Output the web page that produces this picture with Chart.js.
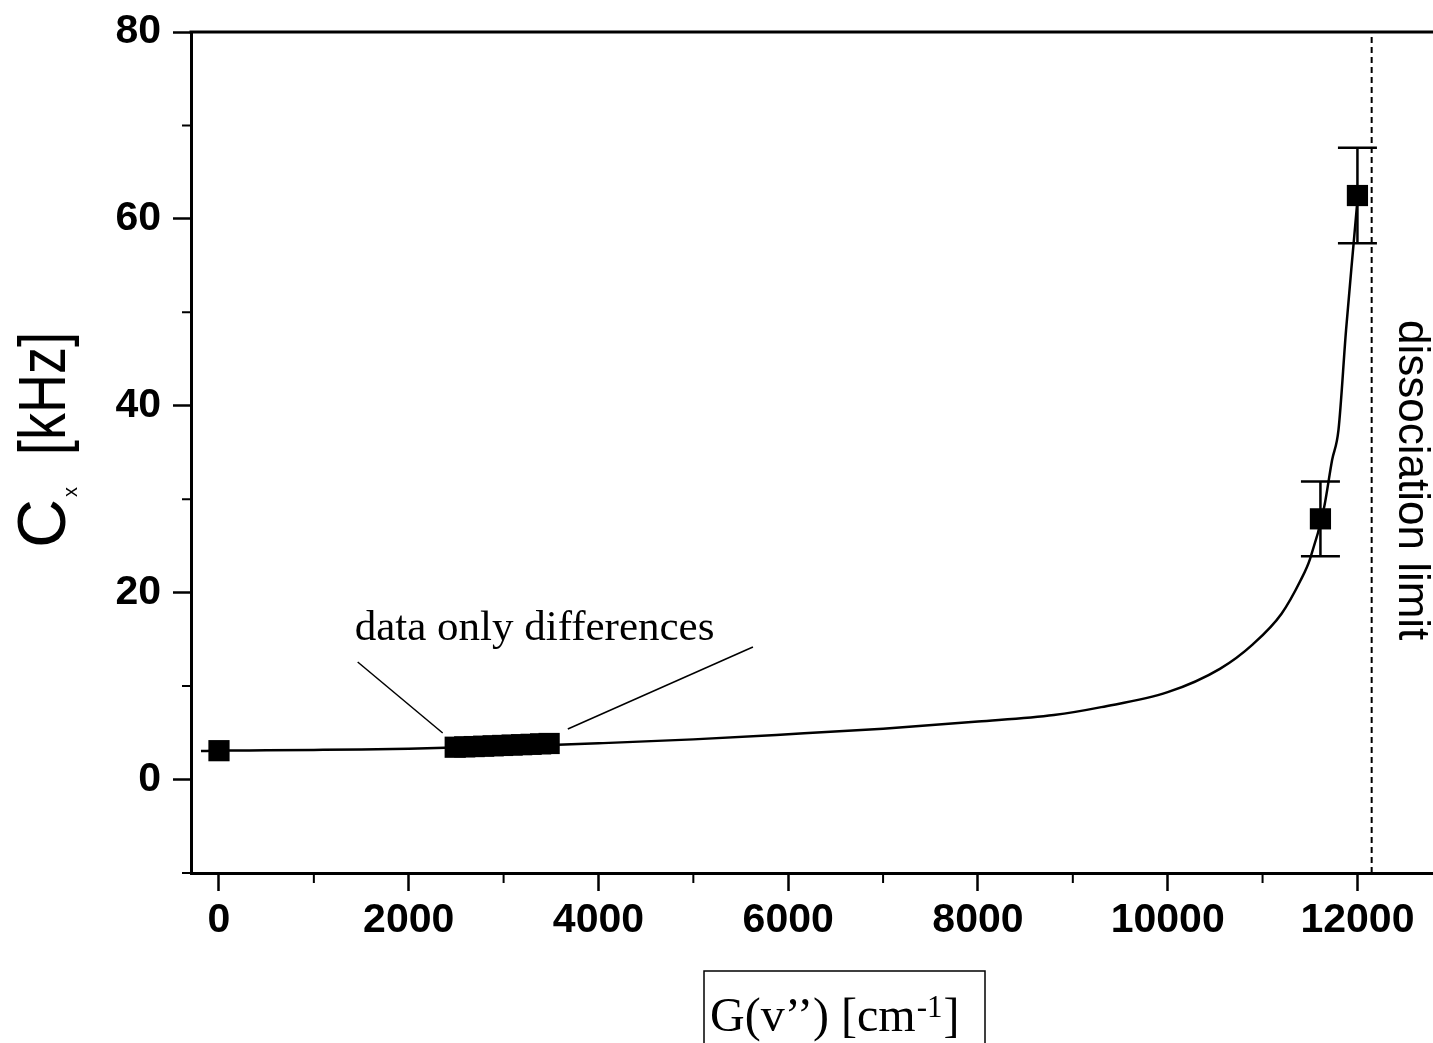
<!DOCTYPE html>
<html>
<head>
<meta charset="utf-8">
<title>Cx vs G(v'')</title>
<script src="https://cdn.jsdelivr.net/npm/chart.js@4.4.1/dist/chart.umd.min.js"></script>
<style>
  html, body { margin: 0; padding: 0; overflow: hidden; background: #fff; }
  #wrap { width: 1433px; height: 1043px; overflow: hidden; }
  canvas { display: block; }
</style>
</head>
<body>
<div id="wrap"><canvas id="c" width="1460" height="1043" style="width:1460px;height:1043px"></canvas></div>
<script>
// Fitted curve C_x(G)
const fitG = [-190, 0, 500, 1000, 1500, 2000, 2500, 3000, 3500, 4000, 5000, 6000, 7000, 8000, 8800, 9300, 10000, 10550, 10900, 11200, 11400, 11500, 11650, 11733, 11800, 11880, 11960, 12000];
const fitC = [3.05, 3.1, 3.13, 3.17, 3.22, 3.3, 3.42, 3.55, 3.7, 3.88, 4.3, 4.85, 5.45, 6.2, 6.9, 7.75, 9.35, 11.85, 14.5, 17.75, 21.3, 23.6, 29.2, 34.2, 37.4, 48.1, 57.4, 62.0];

// Measured values with uncertainties (kHz)
const dataG = [0, 2490, 2590, 2690, 2790, 2890, 2990, 3090, 3190, 3290, 3390, 3480, 11610, 12000];
const dataC = [3.09, 3.46, 3.50, 3.53, 3.57, 3.61, 3.65, 3.69, 3.73, 3.77, 3.82, 3.86, 27.9, 62.5];
const dataErr = [0, 0, 0, 0, 0, 0, 0, 0, 0, 0, 0, 0, 4.0, 5.1];

// Dissociation limit (cm^-1)
const limitG = 12150;

// Axis ranges and ticks
const xRange = [-295, 12923];
const yRange = [-10, 80];
const xMajorTicks = [0, 2000, 4000, 6000, 8000, 10000, 12000];
const yMajorTicks = [0, 20, 40, 60, 80];
const xMinorTicks = [1000, 3000, 5000, 7000, 9000, 11000];
const yMinorTicks = [-10, 10, 30, 50, 70];

// Annotation: label position and leader lines (data units)
const noteText = 'data only differences';
const notePos = [1430, 14.94];
const leaderLeft = [[1462, 12.58], [2358, 4.98]];
const leaderRight = [[5628, 14.19], [3677, 5.41]];

const toXY = (xs, ys) => xs.map((x, i) => ({ x: x, y: ys[i] }));

const decorations = {
  id: 'decorations',
  afterDatasetsDraw(chart) {
    const ctx = chart.ctx;
    const xs = chart.scales.x, ys = chart.scales.y;
    const area = chart.chartArea;
    ctx.save();
    ctx.strokeStyle = '#000';
    ctx.fillStyle = '#000';

    // error bars
    ctx.lineWidth = 2.5;
    dataErr.forEach((e, i) => {
      if (!e) return;
      const px = xs.getPixelForValue(dataG[i]);
      const top = ys.getPixelForValue(dataC[i] + e);
      const bot = ys.getPixelForValue(dataC[i] - e);
      ctx.beginPath();
      ctx.moveTo(px, top); ctx.lineTo(px, bot);
      ctx.moveTo(px - 19.5, top); ctx.lineTo(px + 19.5, top);
      ctx.moveTo(px - 19.5, bot); ctx.lineTo(px + 19.5, bot);
      ctx.stroke();
    });

    // top frame line
    ctx.lineWidth = 3;
    ctx.beginPath();
    ctx.moveTo(area.left - 1.5, area.top);
    ctx.lineTo(area.right, area.top);
    ctx.stroke();

    // minor ticks
    ctx.lineWidth = 2;
    ctx.beginPath();
    xMinorTicks.forEach(v => {
      const px = xs.getPixelForValue(v);
      ctx.moveTo(px, area.bottom); ctx.lineTo(px, area.bottom + 10);
    });
    yMinorTicks.forEach(v => {
      const py = ys.getPixelForValue(v);
      ctx.moveTo(area.left, py); ctx.lineTo(area.left - 9, py);
    });
    ctx.stroke();

    // annotation text
    ctx.font = '43px "Liberation Serif", "Times New Roman", serif';
    ctx.textAlign = 'left';
    ctx.textBaseline = 'alphabetic';
    ctx.fillText(noteText, xs.getPixelForValue(notePos[0]), ys.getPixelForValue(notePos[1]));

    // dissociation limit label (rotated clockwise)
    ctx.save();
    ctx.translate(xs.getPixelForValue(limitG) + 27, 320);
    ctx.rotate(Math.PI / 2);
    ctx.font = '44px "Liberation Sans", Arial, sans-serif';
    ctx.fillText('dissociation limit', 0, 0);
    ctx.restore();

    ctx.restore();
  },
  afterDraw(chart) {
    const ctx = chart.ctx;
    ctx.save();
    ctx.fillStyle = '#000';
    ctx.strokeStyle = '#000';

    // y-axis title: C_x [kHz]
    ctx.save();
    ctx.translate(65, 548);
    ctx.rotate(-Math.PI / 2);
    ctx.textBaseline = 'alphabetic';
    ctx.textAlign = 'left';
    ctx.font = '68px "Liberation Sans", Arial, sans-serif';
    ctx.fillText('C', 0, 0);
    ctx.font = '20px "Liberation Sans", Arial, sans-serif';
    ctx.fillText('x', 51, 12);
    ctx.font = '66px "Liberation Sans", Arial, sans-serif';
    const unit = '[kHz]';
    const w = ctx.measureText(unit).width;
    ctx.translate(93, 0);
    ctx.scale(123 / w, 1);
    ctx.fillText(unit, 0, 0);
    ctx.restore();

    // x-axis title in a box: G(v'') [cm^-1]
    ctx.lineWidth = 1.5;
    ctx.strokeRect(704, 971, 281, 90);
    ctx.textBaseline = 'alphabetic';
    ctx.textAlign = 'left';
    let x = 710;
    const base = 1031;
    ctx.font = '48px "Liberation Serif", "Times New Roman", serif';
    const part1 = 'G(v\u2019\u2019) [cm';
    ctx.fillText(part1, x, base);
    x += ctx.measureText(part1).width;
    ctx.font = '31px "Liberation Serif", "Times New Roman", serif';
    ctx.fillText('-1', x + 1, base - 14);
    x += ctx.measureText('-1').width + 2;
    ctx.font = '48px "Liberation Serif", "Times New Roman", serif';
    ctx.fillText(']', x, base);

    ctx.restore();
  }
};

const tickFont = { family: '"Liberation Sans", Arial, sans-serif', size: 41, weight: 'bold' };

new Chart(document.getElementById('c'), {
  data: {
    datasets: [
      {
        type: 'line',
        label: 'fit',
        data: toXY(fitG, fitC),
        borderColor: '#000',
        borderWidth: 2.5,
        pointRadius: 0,
        cubicInterpolationMode: 'monotone',
        fill: false,
        order: 2
      },
      {
        type: 'line',
        label: 'dissociation limit',
        data: [{ x: limitG, y: yRange[0] }, { x: limitG, y: yRange[1] }],
        borderColor: '#000',
        borderWidth: 2,
        borderDash: [6, 4],
        pointRadius: 0,
        fill: false,
        order: 3
      },
      {
        type: 'line',
        label: 'leader left',
        data: leaderLeft.map(p => ({ x: p[0], y: p[1] })),
        borderColor: '#000',
        borderWidth: 1.5,
        pointRadius: 0,
        fill: false,
        order: 3
      },
      {
        type: 'line',
        label: 'leader right',
        data: leaderRight.map(p => ({ x: p[0], y: p[1] })),
        borderColor: '#000',
        borderWidth: 1.5,
        pointRadius: 0,
        fill: false,
        order: 3
      },
      {
        type: 'scatter',
        label: 'data',
        data: toXY(dataG, dataC),
        pointStyle: 'rect',
        pointRadius: 15,
        pointHoverRadius: 15,
        backgroundColor: '#000',
        borderColor: '#000',
        borderWidth: 0,
        order: 1
      }
    ]
  },
  options: {
    responsive: false,
    animation: false,
    events: [],
    layout: { padding: { top: 32, right: 1, left: 0, bottom: 0 } },
    plugins: { legend: { display: false }, tooltip: { enabled: false } },
    scales: {
      x: {
        type: 'linear',
        position: 'bottom',
        min: xRange[0],
        max: xRange[1],
        afterBuildTicks(s) { s.ticks = xMajorTicks.map(v => ({ value: v })); },
        afterFit(s) { s.height = 170; s.paddingLeft = 0; s.paddingRight = 0; },
        border: { display: true, color: '#000', width: 3 },
        grid: { display: true, drawOnChartArea: false, drawTicks: true, tickLength: 18, tickWidth: 2.5, tickColor: '#000' },
        ticks: { autoSkip: false, maxRotation: 0, color: '#000', font: tickFont, padding: 5, callback: v => String(v) }
      },
      y: {
        type: 'linear',
        position: 'left',
        min: yRange[0],
        max: yRange[1],
        afterBuildTicks(s) { s.ticks = yMajorTicks.map(v => ({ value: v })); },
        afterFit(s) { s.width = 191; s.paddingTop = 0; s.paddingBottom = 0; },
        border: { display: true, color: '#000', width: 3 },
        grid: { display: true, drawOnChartArea: false, drawTicks: true, tickLength: 18, tickWidth: 2.5, tickColor: '#000' },
        ticks: { autoSkip: false, color: '#000', font: tickFont, padding: 12, callback: v => String(v) }
      }
    }
  },
  plugins: [decorations]
});
</script>
</body>
</html>
